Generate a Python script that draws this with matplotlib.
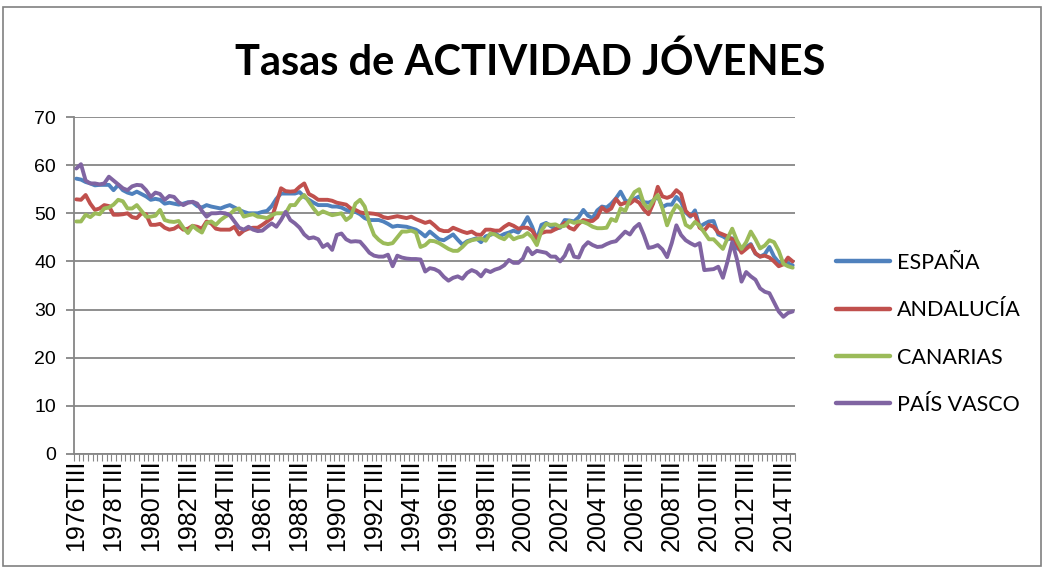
import matplotlib
matplotlib.use("Agg")
import matplotlib.pyplot as plt
from matplotlib.patches import Rectangle
import numpy as np

# ---------------- data ----------------
start_year = 1976
quarter_names = ["TI", "TII", "TIII", "TIV"]
n_points = 155
categories = []
_y, _q = start_year, 2
for _ in range(n_points):
    categories.append(f"{_y}{quarter_names[_q]}")
    _q += 1
    if _q == 4:
        _q = 0
        _y += 1

espana = [
    57.2, 57.0, 56.5, 56.2, 55.8, 55.9, 55.9, 55.9, 54.8, 55.9, 54.8, 54.3, 54.0, 54.5, 54.0, 53.5, 52.8, 53.0, 52.8, 52.0, 52.2, 52.0, 51.8, 52.0, 52.3, 52.3,
    51.5, 51.2, 51.7, 51.4, 51.2, 51.0, 51.4, 51.7, 51.2, 50.7, 50.3, 50.0, 50.0, 50.0, 50.3, 50.5, 51.5, 53.0, 54.1, 54.1, 54.1, 54.1, 54.4, 53.4, 52.8,
    52.2, 51.7, 51.7, 51.7, 51.4, 51.4, 51.2, 50.7, 50.4, 50.3, 49.8, 49.0, 48.6, 48.6, 48.6, 48.3, 47.8, 47.2, 47.4, 47.3, 47.2, 46.9, 46.6, 46.0, 45.2, 46.2,
    45.4, 44.6, 44.4, 45.0, 45.6, 44.5, 43.5, 44.2, 44.5, 44.8, 44.0, 45.2, 45.5, 45.9, 45.2, 45.7, 46.0, 46.4, 46.0, 47.5, 49.2, 47.2, 44.5, 47.6, 48.0, 47.3,
    46.8, 47.0, 48.6, 48.5, 48.3, 49.2, 50.7, 49.5, 49.0, 50.6, 51.4, 51.2, 52.0, 53.1, 54.5, 52.7, 52.2, 53.0, 53.5, 52.3, 52.2, 52.6, 53.5, 51.3, 51.8, 51.8,
    53.4, 52.4, 50.2, 49.3, 50.6, 47.2, 47.8, 48.3, 48.4, 45.6, 45.2, 44.6, 44.8, 42.8, 42.2, 43.0, 43.6, 41.6, 41.0, 41.5, 43.0, 41.0, 39.8, 39.8, 39.6, 39.2,
]
andalucia = [
    52.9, 52.8, 53.8, 52.0, 50.7, 51.0, 51.7, 51.5, 49.7, 49.7, 49.8, 50.0, 49.2, 49.0, 50.0, 49.8, 47.6, 47.6, 47.8, 47.0, 46.6, 46.8, 47.4, 46.6, 46.8, 47.4,
    47.2, 46.8, 48.3, 47.9, 46.8, 46.6, 46.6, 46.6, 47.2, 45.6, 46.4, 46.8, 47.0, 47.0, 47.6, 48.3, 49.0, 52.0, 55.2, 54.6, 54.5, 54.6, 55.5, 56.2, 54.0,
    53.5, 52.8, 52.8, 52.8, 52.6, 52.2, 52.0, 51.8, 51.0, 50.7, 50.2, 50.0, 50.0, 49.9, 49.7, 49.2, 49.0, 49.2, 49.4, 49.2, 49.0, 49.3, 48.8, 48.4, 48.0, 48.3,
    47.5, 46.6, 46.3, 46.3, 47.0, 46.6, 46.2, 45.9, 46.2, 45.6, 45.5, 46.6, 46.6, 46.4, 46.4, 47.2, 47.8, 47.4, 46.8, 47.0, 47.0, 46.4, 44.8, 45.9, 46.2, 46.2,
    46.7, 47.2, 48.0, 47.0, 46.6, 47.8, 48.6, 48.4, 48.4, 49.2, 51.2, 50.4, 51.0, 53.0, 51.8, 52.2, 52.0, 52.8, 52.2, 50.8, 49.8, 52.0, 55.5, 53.5, 53.2, 53.6,
    54.8, 54.0, 50.5, 49.5, 49.8, 47.0, 46.4, 47.6, 47.2, 46.0, 45.6, 45.2, 44.6, 43.6, 41.8, 42.6, 43.4, 41.7, 41.0, 41.2, 40.8, 40.0, 39.0, 39.4, 40.8, 40.0,
]
canarias = [
    48.3, 48.3, 49.7, 49.2, 50.0, 49.8, 51.0, 51.2, 51.8, 52.8, 52.5, 51.0, 51.0, 51.7, 50.5, 49.3, 49.3, 49.5, 50.7, 48.6, 48.3, 48.2, 48.4, 47.0, 45.9, 47.4,
    46.6, 46.0, 48.0, 48.3, 47.6, 48.6, 49.3, 49.8, 50.7, 51.0, 49.3, 49.6, 49.8, 49.3, 49.2, 49.0, 49.6, 50.0, 50.0, 50.0, 51.7, 51.7, 53.0, 53.8, 52.4,
    51.0, 49.8, 50.4, 50.0, 49.6, 49.8, 50.0, 48.6, 49.3, 52.0, 52.8, 51.4, 48.0, 45.5, 44.5, 43.8, 43.6, 43.8, 45.0, 46.2, 46.2, 46.4, 46.0, 43.0, 43.4, 44.3,
    44.2, 43.8, 43.2, 42.6, 42.2, 42.2, 43.0, 44.0, 44.4, 44.6, 44.8, 44.3, 45.8, 45.6, 45.0, 44.6, 45.6, 44.6, 45.0, 45.2, 45.9, 45.0, 43.4, 46.4, 47.8, 47.6,
    47.7, 47.2, 47.4, 48.4, 48.0, 48.3, 48.2, 47.8, 47.2, 46.9, 46.9, 47.0, 48.8, 48.4, 51.0, 50.5, 52.8, 54.4, 55.0, 52.0, 51.0, 52.6, 53.8, 51.0, 47.5, 50.0,
    51.7, 50.8, 47.6, 47.0, 48.2, 47.4, 46.0, 44.6, 44.6, 43.6, 42.6, 44.8, 46.8, 44.4, 42.6, 44.0, 46.2, 44.6, 42.7, 43.3, 44.4, 44.0, 42.2, 39.5, 39.0, 38.7,
]
pais_vasco = [
    59.3, 60.2, 56.8, 56.2, 56.2, 56.0, 56.2, 57.6, 56.8, 56.0, 55.2, 54.8, 55.6, 55.9, 55.8, 54.8, 53.4, 54.3, 54.0, 52.8, 53.6, 53.4, 52.3, 51.7, 52.2, 52.4,
    52.0, 50.5, 49.3, 50.0, 50.0, 50.1, 50.0, 49.6, 48.3, 47.0, 46.6, 47.2, 46.6, 46.3, 46.4, 47.2, 47.9, 47.2, 48.6, 50.3, 48.6, 47.9, 47.0, 45.6, 44.8,
    45.0, 44.6, 43.0, 43.6, 42.4, 45.5, 45.8, 44.6, 44.1, 44.2, 44.1, 43.0, 41.8, 41.2, 41.0, 41.0, 41.4, 39.0, 41.2, 40.8, 40.6, 40.5, 40.5, 40.4, 37.9, 38.6,
    38.4, 37.9, 36.8, 36.0, 36.6, 36.9, 36.4, 37.6, 38.2, 37.8, 36.9, 38.2, 37.8, 38.3, 38.6, 39.2, 40.3, 39.7, 39.7, 40.6, 42.8, 41.5, 42.2, 42.0, 41.8, 41.0,
    41.0, 40.0, 41.2, 43.4, 41.0, 40.8, 43.0, 44.0, 43.4, 43.0, 43.1, 43.6, 44.0, 44.2, 45.2, 46.2, 45.6, 47.0, 47.8, 45.5, 42.8, 43.0, 43.4, 42.5, 40.9, 43.8,
    47.5, 45.5, 44.4, 43.8, 43.3, 43.8, 38.2, 38.3, 38.4, 38.9, 36.6, 40.0, 44.0, 40.5, 35.8, 37.8, 36.9, 36.2, 34.4, 33.7, 33.4, 31.5, 29.6, 28.5, 29.3, 29.6,
]

series_names = ["ESPAÑA", "ANDALUCÍA", "CANARIAS", "PAÍS VASCO"]
series_values = [espana, andalucia, canarias, pais_vasco]
series_colors = ["#4F81BD", "#C0504D", "#9BBB59", "#8064A2"]
y_ticks = [0, 10, 20, 30, 40, 50, 60, 70]
title_text = "Tasas de ACTIVIDAD JÓVENES"

# ---------------- figure ----------------
W, H = 1044, 569
fig = plt.figure(figsize=(W / 100, H / 100), dpi=100)
ax = fig.add_axes([74 / W, 1 - 454 / H, (795 - 74) / W, (454 - 117) / H])

grid_col = "#868686"
x = np.arange(len(categories))
for name, vals, col in zip(series_names, series_values, series_colors):
    ax.plot(x, vals, color=col, lw=2.8, label=name, solid_joinstyle="round",
            solid_capstyle="round", zorder=3)

ax.set_xlim(-0.5, len(categories) - 0.5)
ax.set_ylim(0, 70)
ax.set_yticks(y_ticks)
ax.set_yticklabels([str(v) for v in y_ticks], fontsize=14, family="Liberation Sans")
ax.yaxis.grid(True, color=grid_col, lw=1.3)
ax.set_axisbelow(True)
ax.tick_params(axis="y", length=6, width=1.3, color=grid_col, pad=7)

major_idx = list(range(0, len(categories), 8))
ax.set_xticks(major_idx)
ax.set_xticklabels([categories[i] for i in major_idx], rotation=90,
                   fontsize=18, family="Liberation Sans")
ax.set_xticks(np.arange(-0.5, len(categories), 1.0), minor=True)
ax.tick_params(axis="x", which="major", length=0, pad=4)
ax.tick_params(axis="x", which="minor", length=5, width=0.8, color=grid_col)

for s in ["top", "right"]:
    ax.spines[s].set_visible(False)
ax.spines["left"].set_color(grid_col)
ax.spines["left"].set_linewidth(1.3)
ax.spines["bottom"].set_color(grid_col)
ax.spines["bottom"].set_linewidth(1.3)

fig.text(530 / W, 1 - 62 / H, title_text, ha="center", va="center",
         fontsize=30, fontweight="bold", family="Lato")

leg = fig.legend(loc="upper left", bbox_to_anchor=(836 / W, 1 - 253 / H),
                 frameon=False, handlelength=2.5, borderpad=0, borderaxespad=0,
                 handletextpad=0.33, labelspacing=1.27,
                 prop={"family": "Lato", "size": 15.5})
for line in leg.get_lines():
    line.set_linewidth(3.2)

fig.patches.append(Rectangle((3 / W, 3 / H), (W - 6) / W, (H - 10) / H,
                             transform=fig.transFigure, fill=False,
                             edgecolor="#808080", lw=1.2))

fig.savefig("out.png", dpi=100, facecolor="white")
